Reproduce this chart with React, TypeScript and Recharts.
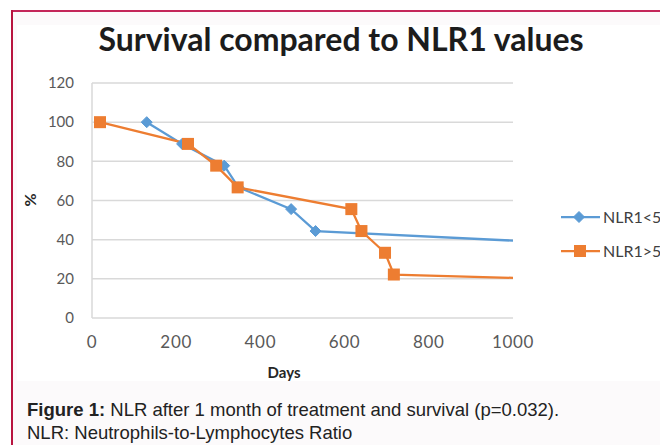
import React from 'react';
import { LineChart, Line, XAxis, YAxis, CartesianGrid } from 'recharts';

const lowDays = [130, 214, 314, 348, 473, 531, 1000];
const lowValues = [100, 88.9, 77.8, 66.7, 55.6, 44.4, 39.5];
const highDays = [19, 228, 295, 346, 616, 640, 696, 717, 1000];
const highValues = [100, 88.9, 77.8, 66.7, 55.6, 44.4, 33.3, 22.2, 20.5];
const xTicks = [0, 200, 400, 600, 800, 1000];
const yTicks = [0, 20, 40, 60, 80, 100, 120];
const seriesNames = ['NLR1<5', 'NLR1>5'];
const seriesColors = ['#5b9bd5', '#ed7d31'];

const lowData = lowDays.map((d, i) => ({ day: d, value: lowValues[i] }));
const highData = highDays.map((d, i) => ({ day: d, value: highValues[i] }));

const FONT = 'Lato, "Open Sans", sans-serif';

const Diamond = ({ cx, cy, color, r = 5.5 }: any) => (
  <polygon
    points={`${cx},${cy - r} ${cx + r},${cy} ${cx},${cy + r} ${cx - r},${cy}`}
    fill={color}
    stroke={color}
    strokeWidth={1}
  />
);
const Square = ({ cx, cy, color, s = 6 }: any) => (
  <rect x={cx - s} y={cy - s} width={2 * s} height={2 * s} fill={color} />
);

const makeDot = (kind: 'diamond' | 'square', color: string, n: number) => (props: any) => {
  const { cx, cy, index } = props;
  const key = `${kind}-${index}`;
  if (index === n - 1 || cx == null || cy == null) return <g key={key} />;
  return (
    <g key={key}>
      {kind === 'diamond' ? <Diamond cx={cx} cy={cy} color={color} /> : <Square cx={cx} cy={cy} color={color} />}
    </g>
  );
};

export default function App() {
  return (
    <div
      style={{
        position: 'absolute',
        left: 0,
        top: 0,
        width: 660,
        height: 445,
        overflow: 'hidden',
        background: '#ffffff',
        fontFamily: FONT,
      }}
    >
      {/* frame */}
      <div style={{ position: 'absolute', left: 12, top: 11, width: 648, height: 434, background: '#fcfafb' }} />
      <div style={{ position: 'absolute', left: 17, top: 25, width: 643, height: 356, background: '#ffffff' }} />
      <div style={{ position: 'absolute', left: 11, top: 10, width: 649, height: 2, background: '#c4275a' }} />
      <div style={{ position: 'absolute', left: 11, top: 10, width: 2, height: 435, background: '#b8143f' }} />

      {/* title */}
      <div
        style={{
          position: 'absolute',
          left: 0,
          width: 682,
          top: 20,
          textAlign: 'center',
          fontSize: 32,
          fontWeight: 700,
          color: '#1c1c1c',
          fontFamily: FONT,
          lineHeight: '38px',
        }}
      >
        Survival compared to NLR1 values
      </div>

      <div style={{ position: 'absolute', left: 0, top: 0 }}>
        <LineChart width={660} height={445} margin={{ top: 83, right: 147, bottom: 87, left: 32 }}>
          <CartesianGrid vertical={false} stroke="#d9d9d9" strokeWidth={1.5} horizontalValues={yTicks} />
          <XAxis
            dataKey="day"
            type="number"
            domain={[0, 1000]}
            ticks={xTicks}
            axisLine={false}
            tickLine={false}
            tickSize={0}
            tickMargin={18}
            height={40}
            tick={{ fill: '#595959', fontSize: 17, fontFamily: FONT, letterSpacing: 0.7 }}
            allowDuplicatedCategory={false}
          />
          <YAxis
            type="number"
            domain={[0, 120]}
            ticks={yTicks}
            width={60}
            axisLine={{ stroke: '#d9d9d9', strokeWidth: 1.5 }}
            tickLine={false}
            tickSize={0}
            tickMargin={18}
            tick={{ fill: '#595959', fontSize: 15, fontFamily: FONT }}
          />
          <Line
            data={lowData}
            dataKey="value"
            name={seriesNames[0]}
            stroke={seriesColors[0]}
            strokeWidth={2.25}
            dot={makeDot('diamond', seriesColors[0], lowData.length)}
            activeDot={false}
            isAnimationActive={false}
          />
          <Line
            data={highData}
            dataKey="value"
            name={seriesNames[1]}
            stroke={seriesColors[1]}
            strokeWidth={2.25}
            dot={makeDot('square', seriesColors[1], highData.length)}
            activeDot={false}
            isAnimationActive={false}
          />
        </LineChart>
      </div>

      {/* axis titles */}
      <div
        style={{
          position: 'absolute',
          left: 244,
          width: 80,
          top: 362,
          textAlign: 'center',
          fontSize: 15,
          fontWeight: 700,
          color: '#262626',
          lineHeight: '20px',
        }}
      >
        Days
      </div>
      <div
        style={{
          position: 'absolute',
          left: 10,
          top: 190,
          width: 40,
          height: 20,
          textAlign: 'center',
          fontSize: 16,
          fontWeight: 700,
          color: '#262626',
          lineHeight: '20px',
          transform: 'rotate(-90deg)',
        }}
      >
        %
      </div>

      {/* legend */}
      <svg style={{ position: 'absolute', left: 0, top: 0 }} width={660} height={445}>
        {seriesNames.map((name, i) => {
          const y = i === 0 ? 217 : 251;
          return (
            <g key={name}>
              <line x1={561} x2={600} y1={y} y2={y} stroke={seriesColors[i]} strokeWidth={2.25} />
              {i === 0 ? (
                <Diamond cx={579} cy={y} color={seriesColors[i]} />
              ) : (
                <Square cx={580} cy={y} color={seriesColors[i]} />
              )}
              <text x={603} y={y} dy="0.35em" fontSize={16} fill="#404040" fontFamily={FONT}>
                {name}
              </text>
            </g>
          );
        })}
      </svg>

      {/* caption */}
      <div
        style={{
          position: 'absolute',
          left: 27,
          top: 398,
          fontFamily: '"Liberation Sans", Arial, sans-serif',
          fontSize: 18.5,
          lineHeight: '23px',
          color: '#222222',
          whiteSpace: 'nowrap',
        }}
      >
        <div>
          <b>Figure 1:</b> NLR after 1 month of treatment and survival (p=0.032).
        </div>
        <div>NLR: Neutrophils-to-Lymphocytes Ratio</div>
      </div>
    </div>
  );
}
